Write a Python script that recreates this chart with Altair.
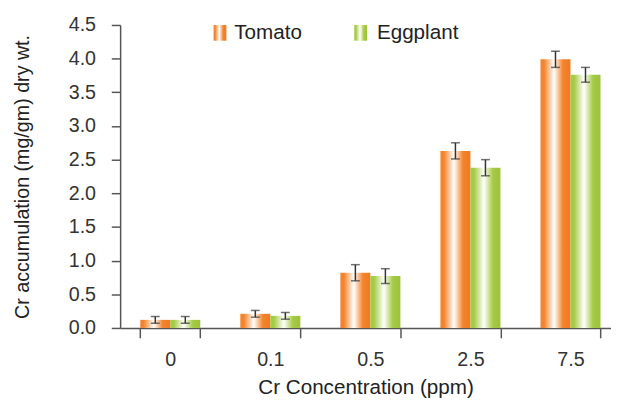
import altair as alt
import pandas as pd

concentrations = ["0", "0.1", "0.5", "2.5", "7.5"]
series = ["Tomato", "Eggplant"]
tomato = [0.12, 0.21, 0.82, 2.63, 3.99]
tomato_err = [0.05, 0.05, 0.12, 0.12, 0.12]
eggplant = [0.12, 0.18, 0.77, 2.38, 3.76]
eggplant_err = [0.05, 0.05, 0.11, 0.12, 0.11]
y_ticks = [0.0, 0.5, 1.0, 1.5, 2.0, 2.5, 3.0, 3.5, 4.0, 4.5]

ORANGE = "#F4842C"
ORANGE_D = "#EE7A22"
GREEN = "#A5CB45"
GREEN_D = "#9CC23C"
FONT = "Liberation Sans"

rows = []
for name, vals, errs in [("Tomato", tomato, tomato_err), ("Eggplant", eggplant, eggplant_err)]:
    for c, v, e in zip(concentrations, vals, errs):
        rows.append(dict(conc=c, series=name, value=v, lo=v - e, hi=v + e))
df = pd.DataFrame(rows)


def grad(color, dark):
    return alt.Gradient(
        gradient="linear", x1=0, x2=1, y1=0, y2=0,
        stops=[
            alt.GradientStop(offset=0, color=color),
            alt.GradientStop(offset=0.12, color=color),
            alt.GradientStop(offset=0.45, color="#FFFFFF"),
            alt.GradientStop(offset=0.75, color=color),
            alt.GradientStop(offset=1, color=dark),
        ],
    )


x_enc = alt.X(
    "conc:N", sort=concentrations,
    scale=alt.Scale(paddingInner=0.4, paddingOuter=0.153, align=0.657),
    axis=alt.Axis(title="Cr Concentration (ppm)", labelAngle=0, tickBand="extent",
                  tickSize=10, labelPadding=12, titlePadding=8, titleFontSize=21),
)
xo_enc = alt.XOffset("series:N", sort=series, scale=alt.Scale(domain=series, paddingInner=0, paddingOuter=0))


def y_enc(field):
    return alt.Y(
        field, type="quantitative", scale=alt.Scale(domain=[0, 4.5], nice=False),
        axis=alt.Axis(values=y_ticks, format=".1f", grid=False, tickSize=9, labelPadding=16,
                      labelOverlap=False, title="Cr accumulation (mg/gm) dry wt.", titlePadding=36,
                      titleFontSize=20),
    )


base = alt.Chart(df)
bars_t = base.transform_filter(alt.datum.series == "Tomato").mark_bar(fill=grad(ORANGE, ORANGE_D)).encode(
    x=x_enc, xOffset=xo_enc, y=y_enc("value"))
bars_e = base.transform_filter(alt.datum.series == "Eggplant").mark_bar(fill=grad(GREEN, GREEN_D)).encode(
    x=x_enc, xOffset=xo_enc, y=y_enc("value"))

err_rule = base.mark_rule(color="#333333", strokeWidth=1.5).encode(
    x=x_enc, xOffset=xo_enc, y=y_enc("lo"), y2="hi:Q")
cap_lo = base.mark_tick(color="#333333", size=9, thickness=1.5).encode(x=x_enc, xOffset=xo_enc, y=y_enc("lo"))
cap_hi = base.mark_tick(color="#333333", size=9, thickness=1.5).encode(x=x_enc, xOffset=xo_enc, y=y_enc("hi"))

leg = pd.DataFrame({"label": ["Tomato", "Eggplant"], "tx": [116, 261]})
leg_t = alt.Chart(leg.iloc[[0]]).mark_rect(fill=grad(ORANGE, ORANGE_D)).encode(
    x=alt.value(95), x2=alt.value(108), y=alt.value(0), y2=alt.value(16))
leg_e = alt.Chart(leg.iloc[[1]]).mark_rect(fill=grad(GREEN, GREEN_D)).encode(
    x=alt.value(238), x2=alt.value(251), y=alt.value(0), y2=alt.value(16))
leg_text = alt.Chart(leg).mark_text(align="left", baseline="middle", fontSize=21, font=FONT, color="#222222").encode(
    x=alt.X("tx:Q", scale=None), y=alt.value(8), text="label:N")

chart = alt.layer(bars_t, bars_e, err_rule, cap_lo, cap_hi, leg_t, leg_e, leg_text).properties(
    width=499, height=308, padding={"left": 5, "top": 4, "right": 0, "bottom": 0}
).configure_view(stroke=None).configure_axis(
    labelFont=FONT, titleFont=FONT, labelFontSize=20,
    labelColor="#333333", titleColor="#222222", titleFontWeight="normal",
    domainColor="#555555", tickColor="#555555", domainWidth=1.5, tickWidth=1.5,
)

chart.save("out.html", embed_options={"renderer": "svg", "actions": False})
